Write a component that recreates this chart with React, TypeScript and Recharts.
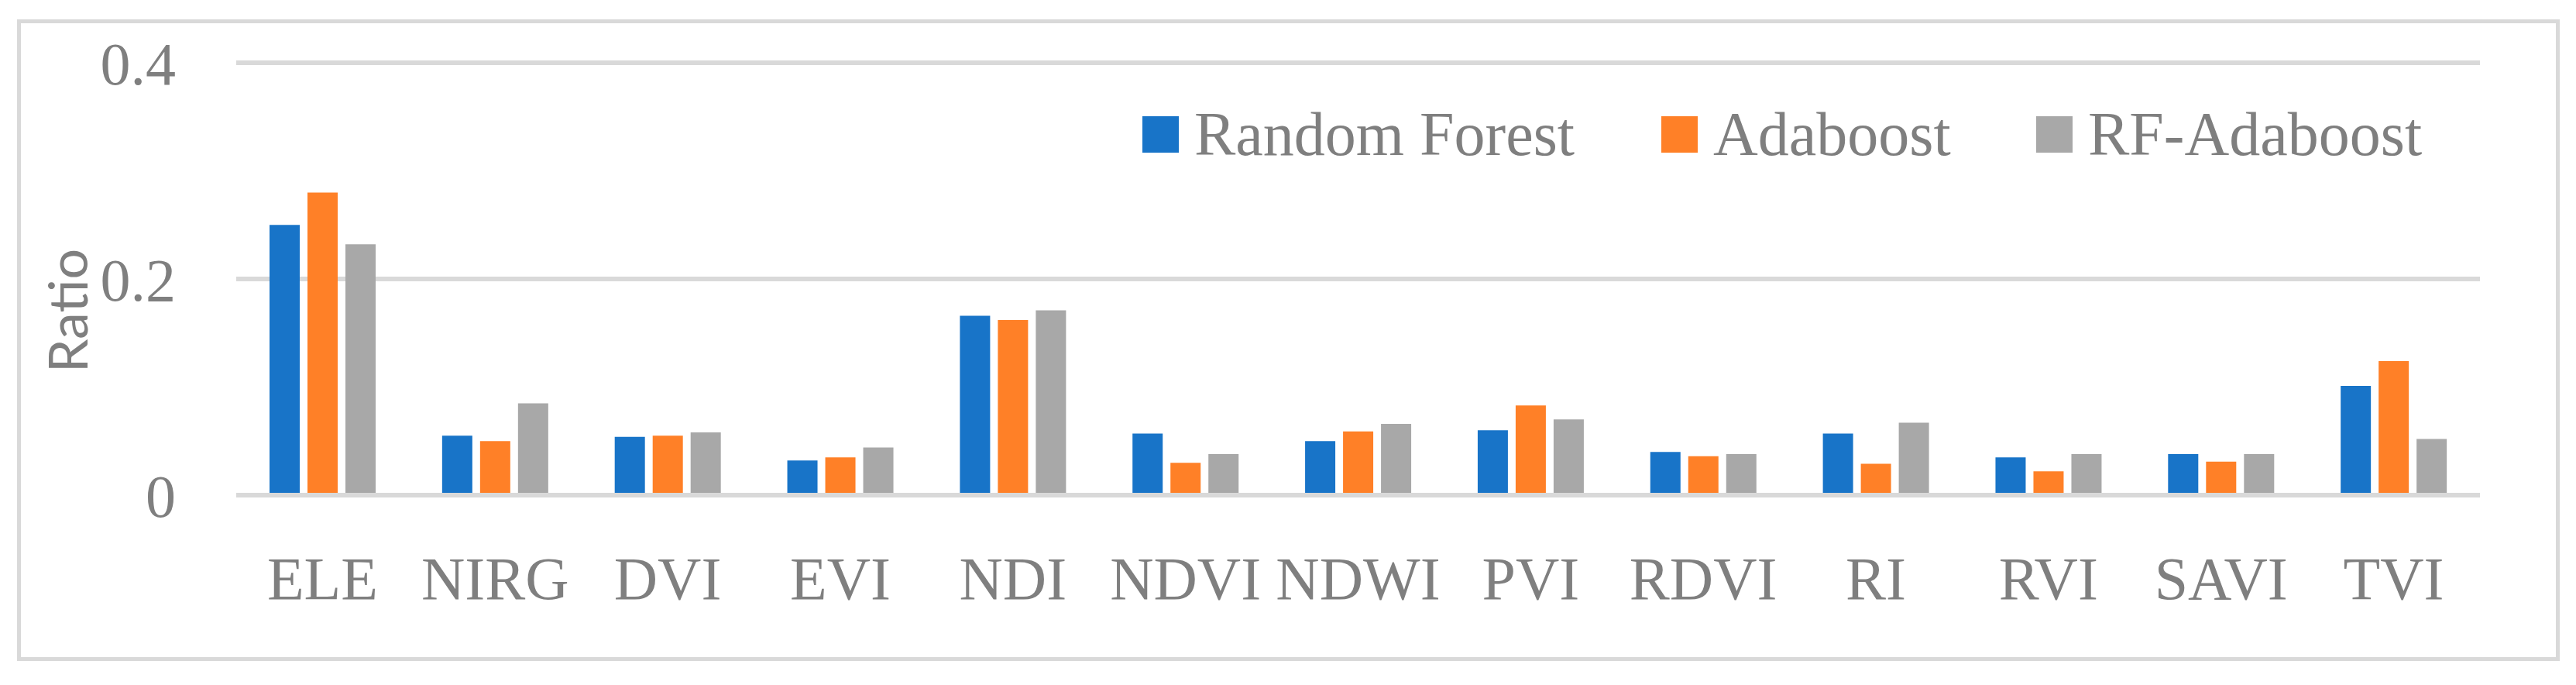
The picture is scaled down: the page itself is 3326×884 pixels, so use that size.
import React from 'react';
import { BarChart, Bar, XAxis, YAxis, CartesianGrid, Legend, Label } from 'recharts';

// Feature importance ratios per index
const categories = ['ELE', 'NIRG', 'DVI', 'EVI', 'NDI', 'NDVI', 'NDWI', 'PVI', 'RDVI', 'RI', 'RVI', 'SAVI', 'TVI'];
const randomForest = [0.25, 0.055, 0.054, 0.032, 0.166, 0.057, 0.05, 0.06, 0.04, 0.057, 0.035, 0.038, 0.101];
const adaboost = [0.28, 0.05, 0.055, 0.035, 0.162, 0.03, 0.059, 0.083, 0.036, 0.029, 0.022, 0.031, 0.124];
const rfAdaboost = [0.232, 0.085, 0.058, 0.044, 0.171, 0.038, 0.066, 0.07, 0.038, 0.067, 0.038, 0.038, 0.052];
const yTicks = [0, 0.2, 0.4];

const seriesNames = ['Random Forest', 'Adaboost', 'RF-Adaboost'];
const colors = ['#1874c8', '#ff8027', '#a8a8a8'];

const data = categories.map((name, i) => ({
  name,
  rf: randomForest[i],
  ada: adaboost[i],
  rfAda: rfAdaboost[i],
}));

const TEXT = '#7f7f7f';
const SERIF = '"Liberation Serif", "DejaVu Serif", serif';
const GRID = '#d9d9d9';

// legend item widths so squares land where the original has them
const itemWidths = [670, 484, 600];

// legend drawn in series order (recharts sorts the payload by name otherwise)
function renderLegend() {
  return (
    <div style={{ display: 'flex', alignItems: 'center', whiteSpace: 'nowrap' }}>
      {seriesNames.map((name, i) => (
        <div key={name} style={{ display: 'flex', alignItems: 'center', width: itemWidths[i] }}>
          <div style={{ width: 47, height: 47, background: colors[i], marginRight: 20, flexShrink: 0 }} />
          <span style={{ fontFamily: SERIF, fontSize: 80, color: TEXT, lineHeight: 1 }}>{name}</span>
        </div>
      ))}
    </div>
  );
}

function RatioLabel(props: any) {
  const { viewBox } = props;
  const x = viewBox.x + 86;
  const y = viewBox.y + viewBox.height / 2 + 41;
  return (
    <text
      x={x}
      y={y}
      transform={`rotate(-90, ${x}, ${y})`}
      textAnchor="middle"
      dominantBaseline="central"
      fill={TEXT}
      fontSize={70}
      fontFamily="Lato, 'Liberation Sans', sans-serif"
    >
      Ratio
    </text>
  );
}

export default function App() {
  return (
    <div style={{ position: 'absolute', left: 0, top: 0, width: 3326, height: 884, background: '#fff' }}>
      <div
        style={{
          position: 'absolute',
          left: 22,
          top: 25,
          width: 3283,
          height: 828,
          border: `5px solid ${GRID}`,
          boxSizing: 'border-box',
        }}
      />
      <BarChart
        width={3326}
        height={884}
        data={data}
        margin={{ top: 81, right: 124, bottom: 95, left: 0 }}
        barGap={10}
        barSize={39}
        style={{ position: 'absolute', left: 0, top: 0 }}
      >
        <CartesianGrid vertical={false} stroke={GRID} strokeWidth={6} />
        <XAxis
          dataKey="name"
          interval={0}
          height={150}
          tickSize={0}
          tickMargin={79}
          axisLine={{ stroke: GRID, strokeWidth: 6 }}
          tickLine={false}
          tick={{ fill: TEXT, fontSize: 78, fontFamily: SERIF }}
        />
        <YAxis
          width={305}
          domain={[0, 0.4]}
          ticks={yTicks}
          tickSize={0}
          tickMargin={78}
          axisLine={false}
          tickLine={false}
          tickFormatter={(v: number) => String(v)}
          tick={{ fill: TEXT, fontSize: 78, fontFamily: SERIF }}
        >
          <Label content={RatioLabel} />
        </YAxis>
        <Legend
          layout="horizontal"
          verticalAlign="middle"
          align="center"
          content={renderLegend}
          wrapperStyle={{ left: 1475, top: 133, width: 1760, right: 'auto', bottom: 'auto' }}
        />
        <Bar dataKey="rf" name={seriesNames[0]} fill={colors[0]} isAnimationActive={false} />
        <Bar dataKey="ada" name={seriesNames[1]} fill={colors[1]} isAnimationActive={false} />
        <Bar dataKey="rfAda" name={seriesNames[2]} fill={colors[2]} isAnimationActive={false} />
      </BarChart>
    </div>
  );
}
